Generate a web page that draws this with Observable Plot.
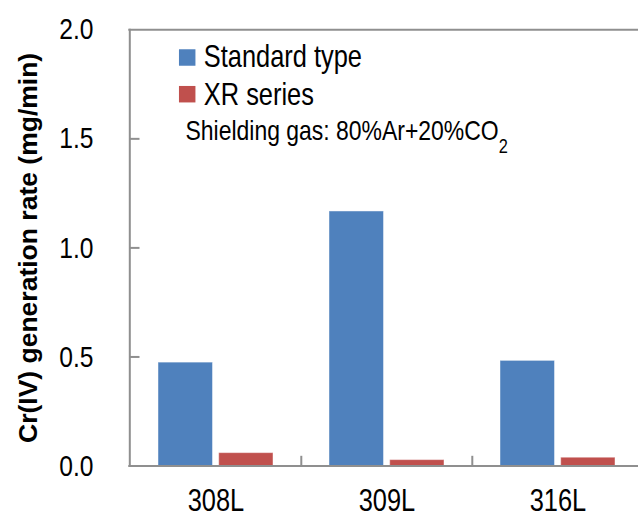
<!DOCTYPE html>
<html>
<head>
<meta charset="utf-8">
<script src="https://cdn.jsdelivr.net/npm/d3@7"></script>
<script src="https://cdn.jsdelivr.net/npm/@observablehq/plot@0.6"></script>
<style>
  html, body { margin: 0; padding: 0; background: #fff; overflow: hidden; }
  #chart { width: 638px; height: 517px; overflow: hidden; }
</style>
</head>
<body>
<div id="chart"></div>
<script>
const categories = ["308L", "309L", "316L"];
const standardType = [0.474, 1.167, 0.482];
const xrSeries = [0.059, 0.027, 0.038];
const yTicks = [0, 0.5, 1.0, 1.5, 2.0];
const seriesNames = ["Standard type", "XR series"];
const seriesColors = ["#4F81BD", "#C0504D"];
const yTitle = "Cr(IV) generation rate (mg/min)";
const note = "Shielding gas: 80%Ar+20%CO2";

const data = categories.map((c, i) => ({category: c, std: standardType[i], xr: xrSeries[i]}));

const sans = '"Liberation Sans", Arial, sans-serif';
const axisColor = "#8f8f8f";

const chart = Plot.plot({
  width: 638,
  height: 517,
  marginLeft: 129.3,
  marginRight: -5.5,
  marginTop: 29.3,
  marginBottom: 51.5,
  style: {fontFamily: sans, background: "white"},
  x: {domain: categories, padding: 0},
  y: {domain: [0, 2]},
  marks: [
    Plot.barY(data, {x: "category", y: "std", fill: seriesColors[0], insetLeft: 28, insetRight: 88.5,
      stroke: "#ffffff", strokeOpacity: 0.45, strokeWidth: 1}),
    Plot.barY(data, {x: "category", y: "xr", fill: seriesColors[1], insetLeft: 88.7, insetRight: 28,
      stroke: "#ffffff", strokeOpacity: 0.45, strokeWidth: 1}),
    Plot.ruleY([0, 2], {y: d => d, stroke: axisColor, strokeWidth: 2, insetLeft: -1, insetRight: -20}),
    Plot.frame({anchor: "left", stroke: axisColor, strokeWidth: 2}),
    Plot.tickY(yTicks.slice(1, -1), {y: d => d, stroke: axisColor, strokeWidth: 2, insetRight: 504}),
    Plot.tickX(categories.slice(1), {x: d => d, dx: -85.7, stroke: axisColor, strokeWidth: 2, insetTop: 426.5}),
    Plot.axisY({ticks: yTicks, tickFormat: ".1f", tickSize: 0, tickPadding: 36.3, fontSize: 30, label: null}),
    Plot.axisX({tickSize: 0, tickPadding: 23, fontSize: 31, label: null}),
    Plot.text([yTitle], {text: d => d, frameAnchor: "left", textAnchor: "middle", lineAnchor: "middle",
      dx: -101.5, rotate: -90, fontWeight: "bold", fontSize: 26.5}),
    Plot.dot([seriesNames[0]], {frameAnchor: "top-left", dx: 57.4, dy: 27.7, symbol: "square", r: 9.3, fill: seriesColors[0]}),
    Plot.dot([seriesNames[1]], {frameAnchor: "top-left", dx: 57.4, dy: 64.4, symbol: "square", r: 9.3, fill: seriesColors[1]}),
    Plot.text([seriesNames[0]], {text: d => d, frameAnchor: "top-left", textAnchor: "start", lineAnchor: "middle",
      dx: 74, dy: 27.5, fontSize: 31}),
    Plot.text([seriesNames[1]], {text: d => d, frameAnchor: "top-left", textAnchor: "start", lineAnchor: "middle",
      dx: 74, dy: 64.8, fontSize: 31}),
    Plot.text([note], {text: d => d, frameAnchor: "top-left", textAnchor: "start", lineAnchor: "middle",
      dx: 55.7, dy: 101.7, fontSize: 28})
  ]
});

const svg = d3.select(chart);
// Render the trailing "2" of CO2 as a subscript
svg.selectAll("text").each(function () {
  if (this.textContent === note) {
    const t = d3.select(this);
    t.text(note.slice(0, -1));
    t.append("tspan").attr("dy", "13").attr("font-size", "20").text(note.slice(-1));
  }
});
// Narrow (condensed) lettering for all horizontal texts, like the reference's Arial Narrow
svg.selectAll("text").each(function () {
  if (this.textContent === yTitle) return;
  const tr = this.getAttribute("transform") || "";
  this.setAttribute("transform", (tr + " scale(0.82,1)").trim());
});

document.getElementById("chart").appendChild(chart);
</script>
</body>
</html>
